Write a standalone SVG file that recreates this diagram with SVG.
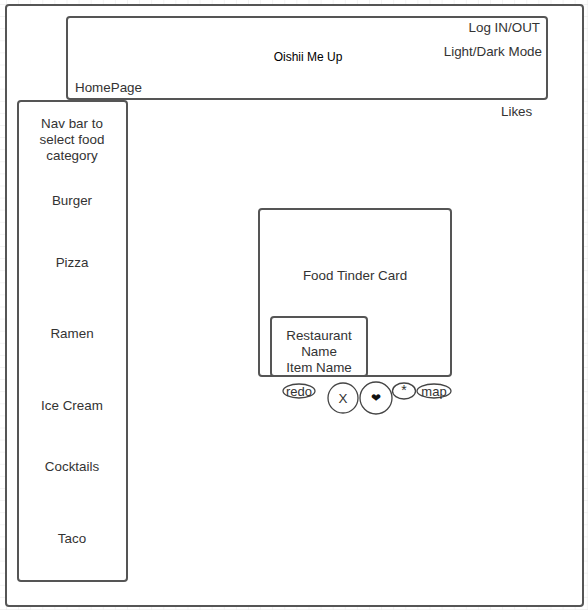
<svg xmlns="http://www.w3.org/2000/svg" width="588" height="610" viewBox="0 0 588 610">
<style>
.box{fill:#fff;stroke:#555;stroke-width:2}
.t{font-family:"Liberation Sans",Arial,sans-serif;font-size:13.4px;fill:#333}
.c{text-anchor:middle}
.r{text-anchor:end}
.btn{fill:#fff;stroke:#444;stroke-width:1.3}
</style>
<defs>
<pattern id="grid" x="6" y="4" width="12.1" height="12.1" patternUnits="userSpaceOnUse">
<path d="M0 0H12.1M0 0V12.1" fill="none" stroke="#e6e6e6" stroke-width="1"/>
</pattern>
</defs>
<rect width="588" height="610" fill="#fff"/>
<rect width="588" height="610" fill="url(#grid)"/>
<g id="frame"><rect class="box" x="6" y="5" width="577" height="601" rx="3"/></g>
<g id="header">
<rect class="box" x="67" y="17" width="480" height="82" rx="3"/>
<text class="t c" x="308" y="61" style="font-size:12px;fill:#000">Oishii Me Up</text>
<text class="t r" x="540" y="32">Log IN/OUT</text>
<text class="t r" x="542" y="56">Light/Dark Mode</text>
<text class="t" x="75" y="92">HomePage</text>
</g>
<g id="likes"><text class="t" x="501" y="116">Likes</text></g>
<g id="nav">
<rect class="box" x="18" y="101" width="109" height="480" rx="3"/>
<text class="t c" x="72" y="128">Nav bar to</text>
<text class="t c" x="72" y="144">select food</text>
<text class="t c" x="72" y="160">category</text>
<text class="t c" x="72" y="205">Burger</text>
<text class="t c" x="72" y="267">Pizza</text>
<text class="t c" x="72" y="338">Ramen</text>
<text class="t c" x="72" y="410">Ice Cream</text>
<text class="t c" x="72" y="471">Cocktails</text>
<text class="t c" x="72" y="543">Taco</text>
</g>
<g id="card">
<rect class="box" x="259" y="209" width="192" height="167" rx="3"/>
<text class="t c" x="355" y="280">Food Tinder Card</text>
</g>
<g id="restaurant">
<rect class="box" x="271" y="317" width="96" height="59" rx="3"/>
<text class="t c" x="319" y="340">Restaurant</text>
<text class="t c" x="319" y="356">Name</text>
<text class="t c" x="319" y="372">Item Name</text>
</g>
<g id="redo"><ellipse class="btn" cx="299" cy="391" rx="16" ry="7"/><text class="t c" x="299" y="396" style="font-size:13px">redo</text></g>
<g id="btn-x"><circle class="btn" cx="343" cy="398" r="15"/><text class="t c" x="343" y="403">X</text></g>
<g id="btn-like"><circle class="btn" cx="376" cy="398" r="16"/><text class="c" x="376" y="402" style="font-family:'DejaVu Sans',sans-serif;font-size:12px;fill:#111">❤</text></g>
<g id="btn-star"><ellipse class="btn" cx="404" cy="391" rx="11.5" ry="8"/><text class="t c" x="404" y="395" style="font-size:14px">*</text></g>
<g id="map"><ellipse class="btn" cx="434" cy="391" rx="17" ry="7"/><text class="t c" x="434" y="396" style="font-size:13px">map</text></g>
<g id="connectors"></g>
</svg>
